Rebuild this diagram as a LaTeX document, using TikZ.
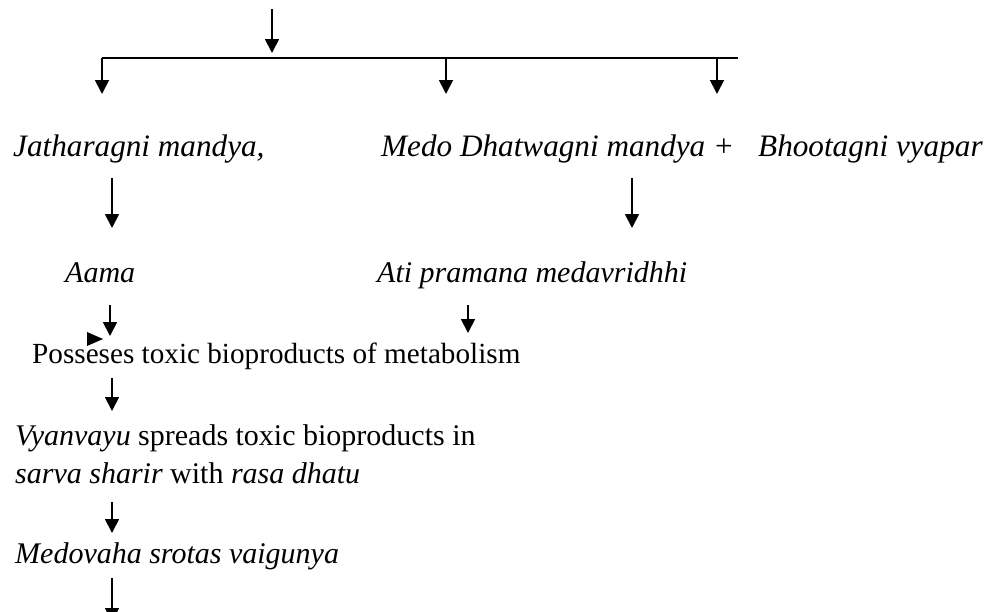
\documentclass[tikz,border=0pt]{standalone}
\usepackage{fontspec}
\setmainfont{Liberation Serif}
\usetikzlibrary{arrows.meta}
\begin{document}
\begin{tikzpicture}[x=1pt,y=-1pt,
  txt/.style={inner sep=0pt,anchor=base west,font=\fontsize{30}{36}\selectfont},
  bigtxt/.style={txt,font=\fontsize{31.2}{37}\selectfont},
  smalltxt/.style={txt,font=\fontsize{29.2}{35}\selectfont},
  arr/.style={line width=1.8pt,-{Triangle[width=14pt,length=14pt]}},
  bar/.style={line width=1.8pt}]
\useasboundingbox (0,0) rectangle (988,611);
\clip (0,0) rectangle (988,611);
% top branching
\coordinate (t0) at (272,9);
\coordinate (t1) at (272,53);
\coordinate (hl) at (102,58);
\coordinate (hr) at (738,58);
\coordinate (b1) at (102,58);
\coordinate (b2) at (446,58);
\coordinate (b3) at (717,58);
\coordinate (e1) at (102,94);
\coordinate (e2) at (446,94);
\coordinate (e3) at (717,94);
\draw[arr] (t0) -- (t1);
\draw[bar] (hl) -- (hr);
\draw[arr] (b1) -- (e1);
\draw[arr] (b2) -- (e2);
\draw[arr] (b3) -- (e3);
% row 1
\node[bigtxt] (jath) at (13,156) {\itshape Jatharagni mandya,};
\node[bigtxt] (medo) at (381,156) {\itshape Medo Dhatwagni mandya +};
\node[bigtxt] (bhoot) at (758,156) {\itshape Bhootagni vyapar};
% row 2
\node[txt] (aama) at (65,282) {\itshape Aama};
\node[txt] (ati) at (377,282) {\itshape Ati pramana medavridhhi};
% lower chain
\node[smalltxt] (poss) at (32,363) {Posseses toxic bioproducts of metabolism};
\node[txt] (vy1) at (15,445) {\itshape Vyanvayu\upshape{} spreads toxic bioproducts in};
\node[txt] (vy2) at (15,483) {\itshape sarva sharir\upshape{} with \itshape rasa dhatu};
\node[txt] (medov) at (15,563) {\itshape Medovaha srotas vaigunya};
% arrows between rows
\coordinate (j1) at (112,178); \coordinate (j2) at (112,228);
\coordinate (m1) at (632,178); \coordinate (m2) at (632,228);
\coordinate (a1) at (110,305); \coordinate (a2) at (110,336);
\coordinate (p1) at (468,305); \coordinate (p2) at (468,333);
\coordinate (q1) at (112,378); \coordinate (q2) at (112,411);
\coordinate (r1) at (112,502); \coordinate (r2) at (112,533);
\coordinate (s1) at (112,578); \coordinate (s2) at (112,622);
\draw[arr] (j1) -- (j2);
\draw[arr] (m1) -- (m2);
\draw[arr] (a1) -- (a2);
\draw[arr] (p1) -- (p2);
\draw[arr] (q1) -- (q2);
\draw[arr] (r1) -- (r2);
\draw[arr] (s1) -- (s2);
% small marker triangle
\fill (87,332) -- (103,339) -- (87,346) -- cycle;
\end{tikzpicture}
\end{document}
